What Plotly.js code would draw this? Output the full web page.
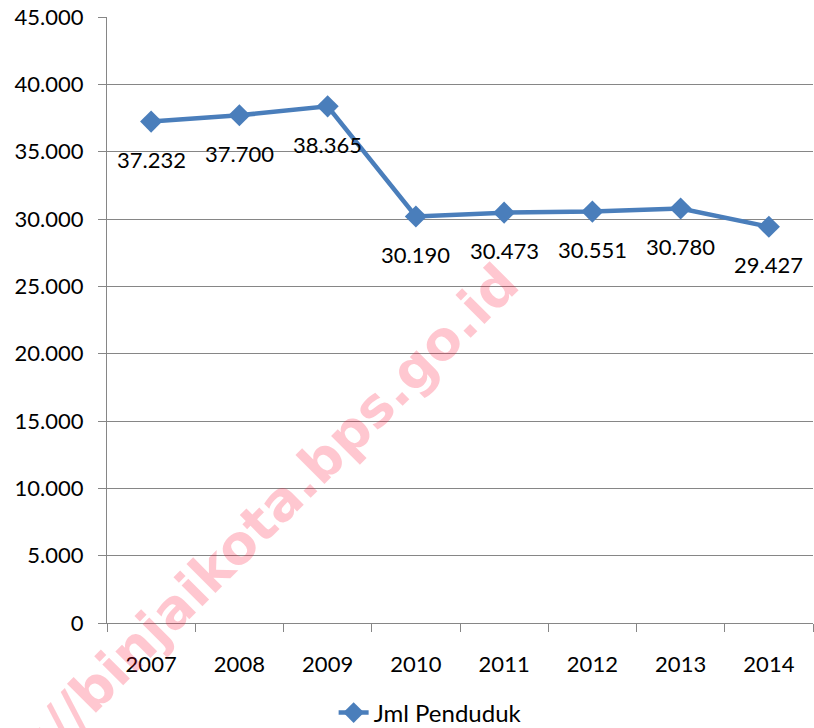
<!DOCTYPE html>
<html>
<head>
<meta charset="utf-8">
<script src="https://cdn.plot.ly/plotly-3.0.1.min.js"></script>
<style>html,body{margin:0;padding:0;background:#fff;}#chart{width:814px;height:728px;}</style>
</head>
<body>
<div id="chart"></div>
<script>
var years = ["2007","2008","2009","2010","2011","2012","2013","2014"];
var jmlPenduduk = [37232, 37700, 38365, 30190, 30473, 30551, 30780, 29427];
var seriesName = "Jml Penduduk";
var yTicks = [0, 5000, 10000, 15000, 20000, 25000, 30000, 35000, 40000, 45000];
var watermark = "http://binjaikota.bps.go.id";

function fmt(v){ return String(v).replace(/\B(?=(\d{3})+(?!\d))/g, "."); }

var FONT = "Lato, 'Open Sans', sans-serif";
var BLUE = "#4a7ebb";
var GRID = "#868686";

var trace = {
  x: years, y: jmlPenduduk, type: "scatter", mode: "lines+markers",
  name: seriesName,
  line: {color: BLUE, width: 4.5},
  marker: {symbol: "diamond", size: 17, color: BLUE, line: {width: 0}},
  hoverinfo: "skip"
};

var annotations = years.map(function(yr, i){
  return {x: i, y: jmlPenduduk[i], xref: "x", yref: "y", text: fmt(jmlPenduduk[i]),
    xanchor: "center", yanchor: "middle",
    showarrow: false, yshift: -38, font: {family: FONT, size: 22, color: "#000"}};
});
annotations.push({
  xref: "paper", yref: "paper", x: 0.17, y: 0.111, xanchor: "center", yanchor: "middle",
  text: watermark, showarrow: false,
  textangle: -45, font: {family: "DejaVu Sans", size: 54, weight: 900, color: "rgba(255,0,40,0.22)"}
});

var layout = {
  width: 814, height: 728,
  margin: {l: 107, r: 1, t: 17, b: 105, autoexpand: false},
  paper_bgcolor: "#fff", plot_bgcolor: "#fff",
  separators: ",.",
  font: {family: FONT, size: 22, color: "#000"},
  showlegend: true,
  legend: {orientation: "h", x: 0.321, xanchor: "left", y: -0.1485, yanchor: "middle",
    font: {family: FONT, size: 24, color: "#000"}, bgcolor: "rgba(0,0,0,0)"},
  xaxis: {
    type: "category", range: [-0.5, 7.5], showgrid: false,
    showline: true, linecolor: GRID, linewidth: 1,
    ticks: "outside", tickson: "boundaries", ticklen: 8, tickcolor: GRID, tickwidth: 1,
    ticklabelstandoff: 22, tickfont: {family: FONT, size: 22, color: "#000"}, zeroline: false
  },
  yaxis: {
    range: [0, 45000], tickvals: yTicks, tickformat: ",d",
    showgrid: true, gridcolor: GRID, gridwidth: 1,
    showline: true, linecolor: GRID, linewidth: 1,
    ticks: "outside", ticklen: 8, tickcolor: GRID, tickwidth: 1,
    ticklabelstandoff: 10, tickfont: {family: FONT, size: 22, color: "#000"}, zeroline: false
  },
  annotations: annotations
};

Plotly.newPlot("chart", [trace], layout, {displayModeBar: false, staticPlot: true});
</script>
</body>
</html>
